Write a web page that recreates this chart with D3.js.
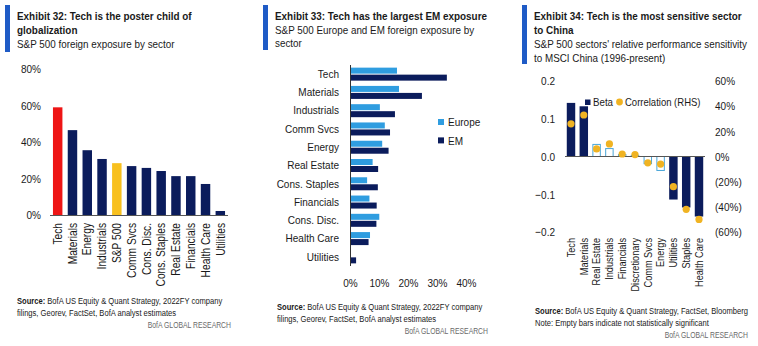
<!DOCTYPE html>
<html>
<head>
<meta charset="utf-8">
<script src="https://cdn.jsdelivr.net/npm/d3@7"></script>
<style>
  body { margin: 0; background: #fff; }
  svg text { font-family: "Liberation Sans", Arial, sans-serif; fill: #1a1a1a; }
</style>
</head>
<body>
<svg id="chart" width="758" height="346"></svg>
<script>
// Exhibit 32 data
const sectors32 = ['Tech', 'Materials', 'Energy', 'Industrials', 'S&P 500', 'Comm Svcs', 'Cons. Disc.', 'Cons. Staples', 'Real Estate', 'Financials', 'Health Care', 'Utilities'];
const foreign32 = [0.59, 0.465, 0.355, 0.307, 0.284, 0.268, 0.258, 0.241, 0.213, 0.213, 0.17, 0.022];
const ticks32 = [0, 0.2, 0.4, 0.6, 0.8];

// Exhibit 33 data
const sectors33 = ['Tech', 'Materials', 'Industrials', 'Comm Svcs', 'Energy', 'Real Estate', 'Cons. Staples', 'Financials', 'Cons. Disc.', 'Health Care', 'Utilities'];
const europe33 = [0.162, 0.169, 0.103, 0.12, 0.111, 0.078, 0.059, 0.067, 0.101, 0.069, 0.002];
const em33 = [0.334, 0.248, 0.155, 0.138, 0.133, 0.097, 0.096, 0.092, 0.091, 0.064, 0.021];
const ticks33 = [0, 0.1, 0.2, 0.3, 0.4];

// Exhibit 34 data
const sectors34 = ['Tech', 'Materials', 'Real Estate', 'Industrials', 'Financials', 'Discretionary', 'Comm Svcs', 'Energy', 'Utilities', 'Staples', 'Health Care'];
const beta34 = [0.142, 0.133, 0.032, 0.021, 0.005, 0.003, -0.019, -0.037, -0.114, -0.135, -0.159];
const corr34 = [0.26, 0.33, 0.06, 0.10, 0.02, 0.015, -0.05, -0.06, -0.24, -0.42, -0.50];
const significant34 = [true, true, false, false, false, false, false, false, true, true, true];
const betaTicks = [-0.2, -0.1, 0, 0.1, 0.2];
const corrTicks = [-0.6, -0.4, -0.2, 0, 0.2, 0.4, 0.6];

const navy = '#0b1c5c';
const lightBlue = '#2f9de0';
const gold = '#f0b322';
const accent = '#1f5bc6';
const SX = 0.85; // horizontal squeeze, the original font is a condensed face

const svg = d3.select('#chart');

// squeeze text horizontally around its anchor point
function condense(sel, sx = SX) {
  sel.each(function() {
    const t = d3.select(this);
    const x = +t.attr('x') || 0, y = +t.attr('y') || 0;
    t.attr('x', 0).attr('y', 0).attr('transform', `translate(${x},${y}) scale(${sx},1)`);
  });
  return sel;
}

function label(x, y, txt, size, opts = {}) {
  const t = svg.append('text').attr('x', x).attr('y', y)
    .style('font-size', size + 'px')
    .attr('text-anchor', opts.anchor || 'start')
    .text(txt);
  if (opts.bold) t.style('font-weight', 'bold');
  if (opts.dy) t.attr('dy', opts.dy);
  if (opts.fill) t.style('fill', opts.fill);
  return condense(t, opts.sx || SX);
}

function header(x, barH, titleLines, subLines, subStart) {
  svg.append('rect').attr('x', x).attr('y', 5).attr('width', 5).attr('height', barH).attr('fill', accent);
  titleLines.forEach((t, i) => label(x + 12, 20 + i * 13.5, t, 11.8, { bold: true, sx: 0.84 }));
  subLines.forEach((t, i) => label(x + 12, subStart + i * 13.8, t, 11.6, { sx: 0.85 }));
}

function footer(x, right, y, lines) {
  lines.forEach((t, i) => {
    const txt = svg.append('text').attr('x', x).attr('y', y + i * 12.2).style('font-size', '9.6px');
    if (i === 0) {
      txt.append('tspan').style('font-weight', 'bold').text('Source:');
      txt.append('tspan').text(' ' + t);
    } else {
      txt.text(t);
    }
    condense(txt, 0.79);
  });
  label(right, y + 24, 'BofA GLOBAL RESEARCH', 9, { anchor: 'end', fill: '#6a6a6a', sx: 0.76 });
}

function squeezeTicks(g, sx = SX) {
  g.selectAll('.tick text').each(function() {
    const t = d3.select(this);
    const x = +t.attr('x') || 0;
    t.attr('x', x / sx).attr('transform', `scale(${sx},1)`);
  });
}

// ---------- Exhibit 32 ----------
header(5, 47, ['Exhibit 32: Tech is the poster child of', 'globalization'], ['S&P 500 foreign exposure by sector'], 47.5);

const x32 = d3.scaleBand().domain(sectors32).range([50, 228]).paddingInner(0.36).paddingOuter(0.2);
const y32 = d3.scaleLinear().domain([0, 0.8]).range([215, 69]);

svg.append('g').attr('transform', 'translate(41,0)')
  .call(d3.axisLeft(y32).tickValues(ticks32).tickSize(0).tickFormat(d3.format('.0%')))
  .call(g => g.select('.domain').remove())
  .call(g => g.selectAll('text').attr('x', 0).style('font-size', '11.8px'))
  .call(g => squeezeTicks(g));

svg.append('g').selectAll('rect').data(sectors32).enter().append('rect')
  .attr('x', d => x32(d))
  .attr('y', (d, i) => y32(foreign32[i]))
  .attr('width', x32.bandwidth())
  .attr('height', (d, i) => y32(0) - y32(foreign32[i]))
  .attr('fill', d => d === 'Tech' ? '#ee1515' : d === 'S&P 500' ? '#f8c01e' : navy);

svg.append('line').attr('x1', 50).attr('x2', 228).attr('y1', y32(0) + 0.5).attr('y2', y32(0) + 0.5)
  .attr('stroke', '#555').attr('stroke-width', 1);

svg.append('g').attr('transform', `translate(0,${y32(0)})`)
  .call(d3.axisBottom(x32).tickSize(0))
  .call(g => g.select('.domain').remove())
  .selectAll('text')
  .attr('transform', `rotate(-90) scale(${SX},1)`)
  .attr('x', -8 / SX).attr('y', 0).attr('dy', '0.35em')
  .style('text-anchor', 'end').style('font-size', '12px');

footer(17, 231, 303.5, ['BofA US Equity & Quant Strategy, 2022FY company', 'filings, Georev, FactSet, BofA analyst estimates']);

// ---------- Exhibit 33 ----------
header(263, 45, ['Exhibit 33: Tech has the largest EM exposure'], ['S&P 500 Europe and EM foreign exposure by', 'sector'], 33.5);

const y33 = d3.scaleBand().domain(sectors33).range([65, 266]);
const x33 = d3.scaleLinear().domain([0, 0.4]).range([350, 466]);
const barH = 6;

const rows33 = svg.append('g').selectAll('g').data(sectors33).enter().append('g')
  .attr('transform', d => `translate(0,${y33(d) + y33.bandwidth() / 2})`);
rows33.append('rect').attr('x', x33(0)).attr('y', -barH - 0.5)
  .attr('width', (d, i) => x33(europe33[i]) - x33(0)).attr('height', barH).attr('fill', lightBlue);
rows33.append('rect').attr('x', x33(0)).attr('y', 0.5)
  .attr('width', (d, i) => x33(em33[i]) - x33(0)).attr('height', barH).attr('fill', navy);

svg.append('line').attr('x1', 350.5).attr('x2', 350.5).attr('y1', 65).attr('y2', 266)
  .attr('stroke', '#333').attr('stroke-width', 1);

svg.append('g').attr('transform', 'translate(339,0)')
  .call(d3.axisLeft(y33).tickSize(0))
  .call(g => g.select('.domain').remove())
  .call(g => g.selectAll('text').attr('x', 0).style('font-size', '11.8px'))
  .call(g => squeezeTicks(g));

svg.append('g').attr('transform', 'translate(0,276)')
  .call(d3.axisBottom(x33).tickValues(ticks33).tickSize(0).tickFormat(d3.format('.0%')))
  .call(g => g.select('.domain').remove())
  .call(g => g.selectAll('text').style('font-size', '11.8px'))
  .call(g => squeezeTicks(g));

const leg33 = [['Europe', lightBlue], ['EM', navy]];
leg33.forEach(([name, c], i) => {
  svg.append('rect').attr('x', 438).attr('y', 119 + i * 18.4).attr('width', 6).attr('height', 6).attr('fill', c);
  label(448, 122 + i * 18.4, name, 11.8, { dy: '0.35em' });
});

footer(277, 488, 310, ['BofA US Equity & Quant Strategy, 2022FY company', 'filings, Georev, FactSet, BofA analyst estimates']);

// ---------- Exhibit 34 ----------
header(522, 59, ['Exhibit 34: Tech is the most sensitive sector', 'to China'], ["S&P 500 sectors' relative performance sensitivity", 'to MSCI China (1996-present)'], 48);

const x34 = d3.scaleBand().domain(sectors34).range([564.6, 705.4]).paddingInner(0.34).paddingOuter(0.17);
const yL = d3.scaleLinear().domain([-0.2, 0.2]).range([232, 81]);
const yR = d3.scaleLinear().domain([-0.6, 0.6]).range([232, 81]);

svg.append('g').attr('transform', 'translate(555,0)')
  .call(d3.axisLeft(yL).tickValues(betaTicks).tickSize(0).tickFormat(d3.format('.1f')))
  .call(g => g.select('.domain').remove())
  .call(g => g.selectAll('text').attr('x', 0).style('font-size', '11.8px'))
  .call(g => squeezeTicks(g));

const pctParen = d => d < 0 ? `(${Math.round(-d * 100)}%)` : `${Math.round(d * 100)}%`;
svg.append('g').attr('transform', 'translate(715,0)')
  .call(d3.axisRight(yR).tickValues(corrTicks).tickSize(0).tickFormat(pctParen))
  .call(g => g.select('.domain').remove())
  .call(g => g.selectAll('text').attr('x', 0).style('font-size', '11.8px'))
  .call(g => squeezeTicks(g));

svg.append('g').selectAll('rect').data(sectors34).enter().append('rect')
  .attr('x', (d, i) => x34(d) + (significant34[i] ? 0 : 0.5))
  .attr('y', (d, i) => Math.min(yL(beta34[i]), yL(0)))
  .attr('width', (d, i) => x34.bandwidth() - (significant34[i] ? 0 : 1))
  .attr('height', (d, i) => Math.abs(yL(beta34[i]) - yL(0)))
  .attr('fill', (d, i) => significant34[i] ? navy : '#fff')
  .attr('stroke', (d, i) => significant34[i] ? 'none' : '#4aa6d8')
  .attr('stroke-width', 1);

svg.append('line').attr('x1', 565).attr('x2', 705).attr('y1', yL(0)).attr('y2', yL(0))
  .attr('stroke', '#555').attr('stroke-width', 1);

svg.append('g').selectAll('circle').data(sectors34).enter().append('circle')
  .attr('cx', d => x34(d) + x34.bandwidth() / 2)
  .attr('cy', (d, i) => yR(corr34[i]))
  .attr('r', 3.6)
  .attr('fill', gold);

svg.append('g').attr('transform', 'translate(0,232)')
  .call(d3.axisBottom(x34).tickSize(0))
  .call(g => g.select('.domain').remove())
  .selectAll('text')
  .attr('transform', `rotate(-90) scale(${SX},1)`)
  .attr('x', -6 / SX).attr('y', 0).attr('dy', '0.35em')
  .style('text-anchor', 'end').style('font-size', '10.8px');

svg.append('rect').attr('x', 585).attr('y', 99.5).attr('width', 5.5).attr('height', 5.5).attr('fill', navy);
label(593, 102, 'Beta', 11.6, { dy: '0.35em', sx: 0.84 });
svg.append('circle').attr('cx', 619.5).attr('cy', 102).attr('r', 3.4).attr('fill', gold);
label(625, 102, 'Correlation (RHS)', 11.6, { dy: '0.35em', sx: 0.82 });

footer(535, 748, 314, ['BofA US Equity & Quant Strategy, FactSet, Bloomberg', 'Note: Empty bars indicate not statistically significant']);
</script>
</body>
</html>
